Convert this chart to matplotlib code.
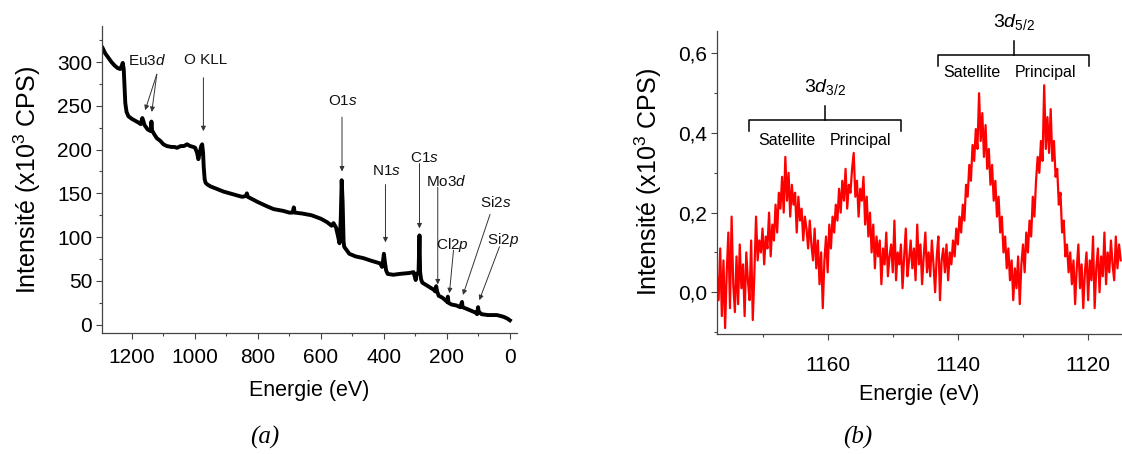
import numpy as np
import matplotlib
matplotlib.use("Agg")
import matplotlib.pyplot as plt
from matplotlib.ticker import MultipleLocator, FuncFormatter

plt.rcParams['font.family'] = ['Liberation Sans', 'DejaVu Sans']
plt.rcParams['mathtext.fontset'] = 'custom'
plt.rcParams['mathtext.rm'] = 'Liberation Sans'
plt.rcParams['mathtext.it'] = 'Liberation Sans:italic'
plt.rcParams['mathtext.default'] = 'regular'

# (a) survey spectrum
survey_e = [1293, 1285, 1275, 1265, 1255, 1245, 1237, 1232, 1229, 1226, 1223, 1221,
            1217, 1211, 1200, 1190, 1180, 1172, 1167, 1164, 1160, 1156, 1150, 1145,
            1140, 1138, 1136, 1130, 1121, 1110, 1100, 1089, 1075, 1065, 1057, 1045,
            1035, 1025, 1015, 1005, 999, 993, 989, 985, 980, 977, 974, 972, 969, 966,
            960, 951, 930, 909, 880, 850, 838, 835, 832, 800, 770, 750, 720, 700, 690,
            686, 683, 660, 630, 600, 580, 566, 560, 552, 545, 541, 537, 534, 531, 528,
            526, 520, 510, 490, 465, 440, 412, 406, 403, 400, 397, 393, 388, 370, 350,
            320, 306, 302, 299, 296, 290, 287, 285, 282, 278, 260, 242, 237, 234, 231,
            226, 215, 205, 199, 197, 195, 185, 170, 158, 154, 152, 150, 130, 110, 104,
            101, 99, 90, 70, 41, 20, 8, 0]
survey_i = [316, 310, 305, 300, 296, 293, 292, 296, 299, 292, 270, 253,
            243, 238, 235, 233, 231, 229, 236, 233, 228, 226, 223, 222,
            221, 232, 222, 218, 213, 210, 206, 204, 203, 203, 202, 204,
            204, 206, 204, 203, 202, 196, 189, 196, 204, 206, 196, 180, 166, 162,
            160, 158, 155, 152, 149, 146, 147, 150, 146, 140, 135, 132, 130, 128, 128,
            134, 128, 127, 125, 121, 117, 113, 116, 111, 100, 93, 120, 165, 140, 95,
            89, 86, 81, 78, 76, 73, 70, 66, 72, 81, 72, 62, 58, 57, 58,
            59, 60, 55, 51, 58, 60, 102, 60, 52, 48, 44, 40, 38, 44, 38,
            33, 31, 28, 26, 32, 25, 23, 22, 20, 24, 26, 20, 17, 14, 12,
            20, 15, 12, 11, 11, 9, 7, 5]

# (b) Eu3d region, 1177 -> 1115 eV in 0.25 eV steps
eu_i = [0.04, -0.02, 0.11, -0.06, 0.08, -0.09, 0.05, 0.15, -0.04, 0.19, 0.02, -0.05,
        0.09, -0.03, 0.12, 0.01, 0.07, -0.06, 0.10, 0.03, -0.02, 0.13, -0.07, 0.05,
        0.19, 0.08, 0.13, 0.10, 0.16, 0.07, 0.14, 0.11, 0.20, 0.09, 0.17, 0.13,
        0.22, 0.15, 0.25, 0.21, 0.29, 0.20, 0.34, 0.23, 0.30, 0.19, 0.27, 0.22,
        0.25, 0.15, 0.24, 0.18, 0.21, 0.13, 0.19, 0.16, 0.11, 0.18, 0.12, 0.08,
        0.16, 0.06, 0.13, 0.02, 0.10, -0.04, 0.08, 0.14, 0.05, 0.17, 0.11, 0.19,
        0.15, 0.22, 0.18, 0.26, 0.20, 0.28, 0.23, 0.31, 0.21, 0.27, 0.25, 0.31,
        0.35, 0.24, 0.28, 0.19, 0.26, 0.23, 0.29, 0.17, 0.24, 0.14, 0.20, 0.10,
        0.17, 0.06, 0.14, 0.09, 0.13, 0.02, 0.11, 0.07, 0.15, 0.04, 0.09, 0.12,
        0.05, 0.18, 0.03, 0.10, 0.07, 0.12, 0.01, 0.09, 0.16, 0.04, 0.08, 0.13,
        0.06, 0.11, 0.03, 0.17, 0.07, 0.12, 0.02, 0.09, 0.15, 0.05, 0.10, 0.04,
        0.13, 0.07, 0.00, 0.09, 0.14, -0.02, 0.08, 0.11, 0.05, 0.12, 0.03, 0.10,
        0.07, 0.13, 0.09, 0.16, 0.12, 0.19, 0.15, 0.22, 0.18, 0.27, 0.24, 0.32,
        0.28, 0.37, 0.33, 0.41, 0.36, 0.50, 0.38, 0.45, 0.34, 0.42, 0.31, 0.36,
        0.27, 0.32, 0.23, 0.28, 0.19, 0.24, 0.15, 0.19, 0.10, 0.14, 0.06, 0.11,
        0.03, 0.08, -0.02, 0.06, 0.01, 0.09, -0.03, 0.07, 0.12, 0.05, 0.15, 0.10,
        0.18, 0.14, 0.24, 0.19, 0.28, 0.34, 0.30, 0.38, 0.33, 0.52, 0.36, 0.44,
        0.35, 0.46, 0.33, 0.38, 0.29, 0.31, 0.22, 0.25, 0.15, 0.18, 0.09, 0.12,
        0.05, 0.10, 0.02, 0.08, -0.03, 0.06, 0.12, 0.01, 0.07, -0.04, 0.05, 0.10,
        -0.02, 0.08, 0.03, 0.14, -0.04, 0.06, 0.11, 0.00, 0.09, 0.04, 0.15, 0.02,
        0.10, 0.05, 0.13, 0.07, 0.03, 0.14, 0.06, 0.12, 0.08]
eu_e = np.linspace(1177, 1115, len(eu_i))

# peak labels for (a): text, text pos, arrow start, arrow tips
peaks = [
    ('Eu3$\\mathit{d}$', (1152, 302), [((1121, 286), (1158, 245)), ((1121, 286), (1137, 243))]),
    ('O KLL', (965, 302), [((973, 282), (973, 221))]),
    ('O1$\\mathit{s}$', (530, 255), [((533, 237), (533, 175))]),
    ('N1$\\mathit{s}$', (392, 176), [((395, 160), (395, 94))]),
    ('C1$\\mathit{s}$', (271, 190), [((287, 184), (287, 110))]),
    ('Mo3$\\mathit{d}$', (202, 163), [((229, 157), (229, 46))]),
    ('Cl2$\\mathit{p}$', (183, 91), [((179, 85), (192, 36))]),
    ('Si2$\\mathit{s}$', (45, 140), [((63, 126), (149, 34))]),
    ('Si2$\\mathit{p}$', (22, 97), [((33, 89), (97, 28))]),
]

fig = plt.figure(figsize=(11.22, 4.54), dpi=100)
axa = fig.add_axes([0.0909, 0.2665, 0.370, 0.676])
axb = fig.add_axes([0.639, 0.2643, 0.361, 0.668])

spine_c = '#444444'
for ax in (axa, axb):
    ax.spines['top'].set_visible(False)
    ax.spines['right'].set_visible(False)
    for s in ('left', 'bottom'):
        ax.spines[s].set_color(spine_c)
        ax.spines[s].set_linewidth(0.9)
    ax.tick_params(which='major', direction='out', length=4, width=0.8,
                   color=spine_c, labelsize=15, pad=3)
    ax.tick_params(which='minor', direction='out', length=2.5, width=0.8, color=spine_c)
    ax.tick_params(axis='x', which='major', pad=7)

# ---- (a)
axa.plot(survey_e, survey_i, color='black', lw=2.8, solid_joinstyle='round')
axa.set_xlim(1295, -23)
axa.set_ylim(-9.5, 341)
axa.xaxis.set_major_locator(MultipleLocator(200))
axa.xaxis.set_minor_locator(MultipleLocator(100))
axa.yaxis.set_major_locator(MultipleLocator(50))
axa.yaxis.set_minor_locator(MultipleLocator(25))
axa.set_xlabel('Energie (eV)', fontsize=15.5, labelpad=9)
axa.set_ylabel('Intensité (x10$^3$ CPS)', fontsize=18, labelpad=10)

for txt, tpos, arrows in peaks:
    axa.text(tpos[0], tpos[1], txt, fontsize=11, ha='center', va='center', color='#111111')
    for start, tip in arrows:
        axa.annotate('', xy=tip, xytext=start,
                     arrowprops=dict(arrowstyle='-|>', color='#333333', lw=0.7,
                                     mutation_scale=7, shrinkA=0, shrinkB=0))

# ---- (b)
axb.plot(eu_e, eu_i, color='#ff0000', lw=1.6)
axb.set_xlim(1177, 1114.8)
axb.set_ylim(-0.105, 0.657)
axb.xaxis.set_major_locator(MultipleLocator(20))
axb.xaxis.set_minor_locator(MultipleLocator(10))
axb.yaxis.set_major_locator(MultipleLocator(0.2))
axb.yaxis.set_minor_locator(MultipleLocator(0.1))
axb.yaxis.set_major_formatter(FuncFormatter(lambda v, p: f'{v:.1f}'.replace('.', ',').replace('-0,0', '0,0')))
axb.tick_params(axis='x', which='major', pad=12)
axb.set_xlabel('Energie (eV)', fontsize=15.5, labelpad=6)
axb.set_ylabel('Intensité (x10$^3$ CPS)', fontsize=18, labelpad=10)

def bracket(ax, x1, x2, y, label, ylab):
    xm = (x1 + x2) / 2
    ax.plot([x1, x1, x2, x2], [y - 0.028, y, y, y - 0.028], color='black', lw=1.1, clip_on=False)
    ax.plot([xm, xm], [y, y + 0.035], color='black', lw=1.1, clip_on=False)
    ax.text(xm, ylab, label, fontsize=14, ha='center', va='center', clip_on=False)

bracket(axb, 1172.1, 1148.8, 0.432, '3$\\mathit{d}_{3/2}$', 0.515)
bracket(axb, 1143.1, 1119.8, 0.596, '3$\\mathit{d}_{5/2}$', 0.68)
for x, lab, y in [(1166.3, 'Satellite', 0.382), (1154.9, 'Principal', 0.382),
                  (1137.8, 'Satellite', 0.553), (1126.6, 'Principal', 0.553)]:
    axb.text(x, y, lab, fontsize=11.5, ha='center', va='center')

fig.text(265 / 1122, 1 - 437 / 454, '(a)', fontsize=18, style='italic',
         family='Liberation Serif', ha='center', va='center')
fig.text(858 / 1122, 1 - 437 / 454, '(b)', fontsize=18, style='italic',
         family='Liberation Serif', ha='center', va='center')

fig.savefig('out.png', dpi=100)
